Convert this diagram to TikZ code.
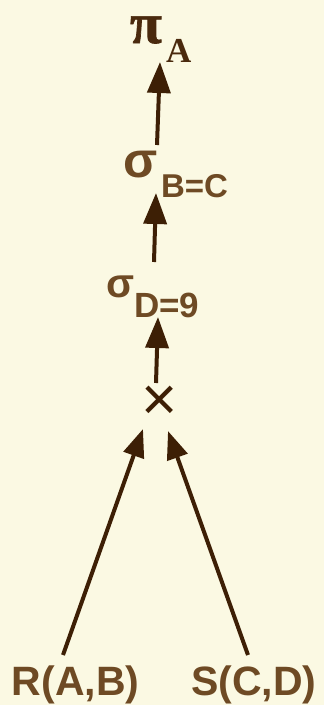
\documentclass[tikz,border=0pt]{standalone}
\usepackage{fontspec}
\setmainfont{Liberation Serif}
\newfontfamily\opfont{Liberation Sans}
\newfontfamily\pifont{Liberation Serif}[BoldFeatures={FakeBold=1.2}]
\usepackage{xcolor}
\usetikzlibrary{arrows.meta,calc}

\definecolor{paper}{HTML}{FBF9E3}
\definecolor{ink}{HTML}{6E4A24}
\definecolor{darkink}{HTML}{4A2A0E}
\definecolor{arrink}{HTML}{3D1F05}

\begin{document}
\begin{tikzpicture}[
    x=1pt, y=-1pt,
    every node/.style={inner sep=0pt, outer sep=0pt},
    sym/.style={anchor=base west, text=ink, font=\opfont\bfseries\fontsize{50}{50}\selectfont},
    sub/.style={anchor=base west, text=ink, font=\opfont\bfseries\fontsize{33}{33}\selectfont},
    rel/.style={anchor=base west, text=ink, font=\opfont\bfseries\fontsize{41}{41}\selectfont},
    arr/.style={-{Triangle[length=31pt,width=23pt]}, line width=4pt, draw=arrink},
    leg/.style={-{Triangle[length=28pt,width=21pt]}, line width=4pt, draw=arrink}
]
\fill[paper] (0,0) rectangle (324,705);
\useasboundingbox (0,0) rectangle (324,705);

% operators, top to bottom
\node[anchor=base west, text=darkink, font=\pifont\bfseries\fontsize{58}{58}\selectfont] (proj) at (130,43) {π};
\node[anchor=base west, text=darkink, font=\bfseries\fontsize{35}{35}\selectfont] (projA) at (166,62) {A};

\node[sym] (selBC) at (123,177) {σ};
\node[sub] (selBCsub) at (161,197) {B=C};

\node[sym, font=\opfont\bfseries\fontsize{41}{41}\selectfont] (selD) at (106,297) {σ};
\node[sub, font=\opfont\bfseries\fontsize{35}{35}\selectfont] (selDsub) at (134,317) {D=9};

\node[text=arrink, font=\opfont\fontsize{62}{62}\selectfont] (cross) at (160,403) {×};

% base relations
\node[rel] (relR) at (12,695) {R(A,B)};
\node[rel] (relS) at (191,695) {S(C,D)};

\draw[arr] ($(selBC.base west)+(34,-32)$) -- ($(projA.base west)+(-6,0)$);
\draw[arr] ($(selD.base west)+(48,-35)$) -- ($(selBCsub.base west)+(-5,-4)$);
\draw[arr] ($(cross.center)+(-4,-20)$) -- ($(selDsub.base west)+(24,0)$);
\draw[leg] ($(relR.base west)+(51,-40)$) -- ($(cross.center)+(-17,26)$);
\draw[leg] ($(relS.base west)+(57,-40)$) -- ($(cross.center)+(8,28)$);
\end{tikzpicture}
\end{document}
